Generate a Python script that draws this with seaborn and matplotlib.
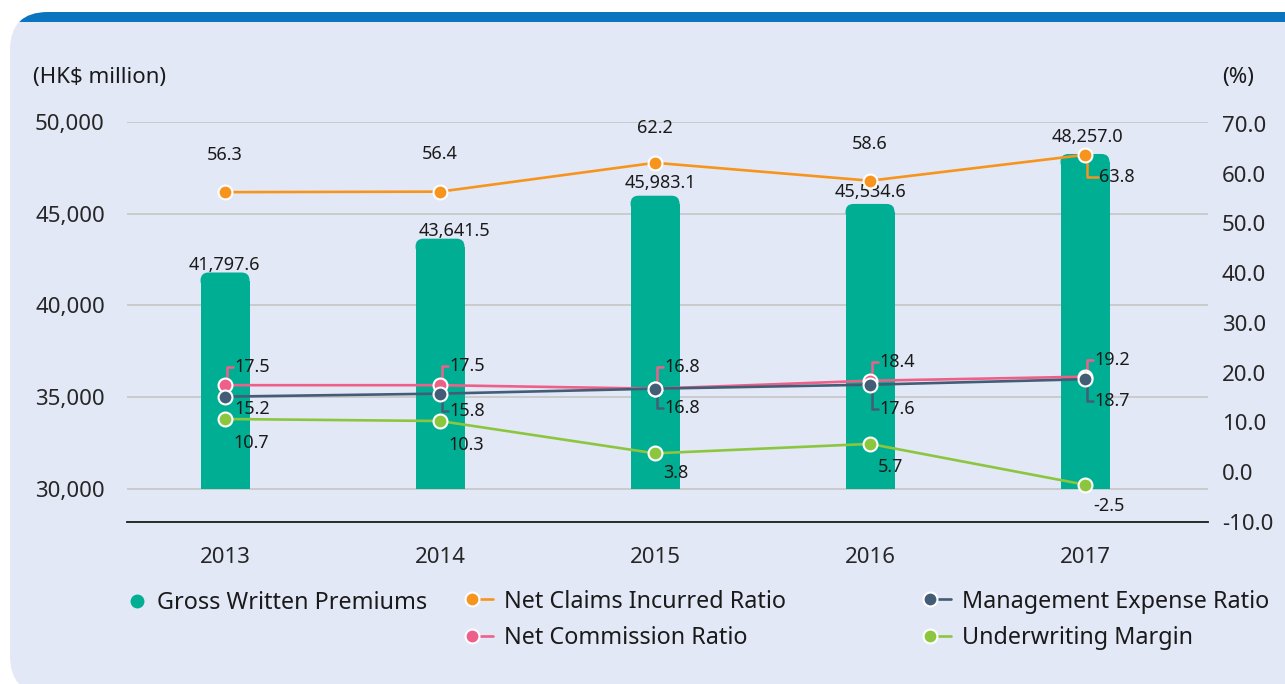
import numpy as np
import pandas as pd
import matplotlib
matplotlib.use("Agg")
import matplotlib.pyplot as plt
import matplotlib.transforms as mtransforms
import seaborn as sns
from matplotlib.patches import FancyBboxPatch, Rectangle
from matplotlib.lines import Line2D
from matplotlib.legend_handler import HandlerLine2D

# data
years = [2013, 2014, 2015, 2016, 2017]
gross_premiums = [41797.6, 43641.5, 45983.1, 45534.6, 48257.0]
net_claims = [56.3, 56.4, 62.2, 58.6, 63.8]
net_commission = [17.5, 17.5, 16.8, 18.4, 19.2]
mgmt_expense = [15.2, 15.8, 16.8, 17.6, 18.7]
uw_margin = [10.7, 10.3, 3.8, 5.7, -2.5]

left_ticks = [30000, 35000, 40000, 45000, 50000]
right_ticks = [-10, 0, 10, 20, 30, 40, 50, 60, 70]
bar_base = 30000

series_names = ["Net Claims Incurred Ratio", "Net Commission Ratio",
                "Management Expense Ratio", "Underwriting Margin"]
series_values = [net_claims, net_commission, mgmt_expense, uw_margin]

# colours
teal = "#00af93"
colors = {"Net Claims Incurred Ratio": "#f7941d",
          "Net Commission Ratio": "#ee6089",
          "Management Expense Ratio": "#445d76",
          "Underwriting Margin": "#8cc63f"}
panel_col = "#e3e8f6"
band_col = "#0a74bf"

# label placement (pixels from the point): dx, dy, ha, leader
label_pos = {
    "Net Claims Incurred Ratio": dict(dx=[0, 0, 0, 0, 14], dy=[37, 38, 35, 37, -22],
                                      ha=["center"] * 4 + ["left"], leader=[0, 0, 0, 0, 1]),
    "Net Commission Ratio": dict(dx=[9] * 5, dy=[18, 19, 22, 19, 17],
                                 ha=["left"] * 5, leader=[1] * 5),
    "Management Expense Ratio": dict(dx=[9] * 5, dy=[-12, -17, -19, -24, -22],
                                     ha=["left"] * 5, leader=[0, 1, 1, 1, 1]),
    "Underwriting Margin": dict(dx=[8] * 5, dy=[-24, -24, -20, -23, -21],
                                ha=["left"] * 5, leader=[0] * 5),
}
bar_dx = [-1, 14, 5, 0, 2]
bar_dy = [8, 8, 13, 12, 17]

sns.set_theme(style="white")
plt.rcParams["font.family"] = ["Noto Sans", "DejaVu Sans"]
plt.rcParams["text.color"] = "#1a1a1a"

fig = plt.figure(figsize=(12.85, 6.84), dpi=100, facecolor="white")

# background panel with blue band on top
panel = FancyBboxPatch((0.10, -0.10), 13.5, 6.82, boxstyle="round,pad=0,rounding_size=0.38",
                       transform=fig.dpi_scale_trans, fc=panel_col, ec="none", zorder=-10)
fig.add_artist(panel)
band = Rectangle((0, 6.62), 13.5, 0.2, transform=fig.dpi_scale_trans,
                 fc=band_col, ec="none", zorder=-9)
fig.add_artist(band)
band.set_clip_path(panel)

ax = fig.add_axes([127 / 1285, 1 - 522 / 684, (1208 - 127) / 1285, 400 / 684])
ax.set_facecolor("none")

df = pd.DataFrame({"year": years, "gwp": gross_premiums})
sns.barplot(data=df, x="year", y="gwp", native_scale=True, width=0.228, color=teal,
            saturation=1, ax=ax, zorder=2)
ax.set_xlim(2012.544, 2017.572)
ax.set_ylim(28200, 50000)

# bars start at 30,000 with a rounded top
px_per_x = 1081 / (2017.572 - 2012.544)
px_per_y = 400 / (50000 - 28200)
r_px = 8
rx, ry = r_px / px_per_x, r_px / px_per_y
for p in list(ax.patches):
    top = p.get_height()
    x0, w = p.get_x(), p.get_width()
    p.set_y(bar_base)
    p.set_height(top - bar_base - ry)
    p.set_edgecolor("none")
    cap = FancyBboxPatch((x0, top - 2 * ry), w, 2 * ry,
                         boxstyle=f"round,pad=0,rounding_size={rx}",
                         mutation_aspect=ry / rx, fc=teal, ec="none", zorder=2)
    ax.add_patch(cap)

for i, (yr, v) in enumerate(zip(years, gross_premiums)):
    ax.annotate(f"{v:,.1f}", xy=(yr, v), xytext=(bar_dx[i], bar_dy[i]),
                textcoords="offset pixels", ha="center", va="center", fontsize=13, zorder=5)

ax.set_yticks(left_ticks)
ax.set_yticklabels([f"{t:,}" for t in left_ticks])
ax.set_xticks(years)
ax.set_xticklabels([str(y) for y in years])
ax.set_xlabel("")
ax.set_ylabel("")
ax.yaxis.grid(True, color="#c8c8c8", lw=1.3)
ax.set_axisbelow(True)
for s in ["left", "right", "top"]:
    ax.spines[s].set_visible(False)
ax.spines["bottom"].set_color("#1a1a1a")
ax.spines["bottom"].set_linewidth(1.3)
ax.tick_params(axis="y", length=0, pad=16, labelsize=16)
ax.tick_params(axis="x", length=0, pad=18, labelsize=16)

# ratio lines on the right axis
ax2 = ax.twinx()
ldf = pd.DataFrame({"year": years * len(series_names),
                    "series": [n for n in series_names for _ in years],
                    "value": [v for vals in series_values for v in vals]})
sns.lineplot(data=ldf, x="year", y="value", hue="series", hue_order=series_names,
             palette=colors, marker="o", markersize=10, markeredgecolor="white",
             markeredgewidth=1.5, linewidth=1.9, ax=ax2, legend=False, zorder=4)
ax2.set_ylim(-10, 70.4)
ax2.set_yticks(right_ticks)
ax2.set_yticklabels([f"{t:.1f}" for t in right_ticks])
ax2.set_ylabel("")
ax2.set_xlabel("")
ax2.grid(False)
for s in ax2.spines.values():
    s.set_visible(False)
ax2.tick_params(axis="y", length=0, pad=10, labelsize=16)

for name, vals in zip(series_names, series_values):
    pos = label_pos[name]
    c = colors[name]
    for i, (yr, v) in enumerate(zip(years, vals)):
        dx, dy = pos["dx"][i], pos["dy"][i]
        ax2.annotate(f"{v:.1f}", xy=(yr, v), xytext=(dx, dy),
                     textcoords="offset pixels", ha=pos["ha"][i], va="center",
                     fontsize=13, zorder=3)
        if pos["leader"][i]:
            # leader in pixel offsets anchored at the point
            anchor = mtransforms.IdentityTransform() + \
                mtransforms.ScaledTranslation(yr, v, ax2.transData)
            ax2.plot([1.5, 1.5, dx - 1.5], [0, dy, dy], color=c, lw=1.8,
                     transform=anchor, solid_joinstyle="round", zorder=3, clip_on=False)

fig.text(33 / 1285, 1 - 78 / 684, "(HK$ million)", fontsize=16, va="center")
fig.text(1222 / 1285, 1 - 78 / 684, "(%)", fontsize=16, va="center")


# legend handle with the marker at the left end of the line
class MarkerLeft(HandlerLine2D):
    def create_artists(self, legend, orig_handle, xdescent, ydescent, width, height,
                       fontsize, trans):
        y = (height - ydescent) / 2
        mx = -xdescent + 0.25 * width
        line = Line2D([mx, -xdescent + width], [y, y])
        self.update_prop(line, orig_handle, legend)
        line.set_marker("None")
        mk = Line2D([mx], [y])
        self.update_prop(mk, orig_handle, legend)
        mk.set_linestyle("None")
        line.set_transform(trans)
        mk.set_transform(trans)
        return [line, mk]


def ratio_handle(name):
    return Line2D([], [], color=colors[name], lw=1.9, marker="o", markersize=10,
                  markerfacecolor=colors[name], markeredgecolor="white", markeredgewidth=1.5)


leg_font = 16.8
fig.legend([Line2D([], [], ls="none", marker="o", markersize=9, color=teal)],
           ["Gross Written Premiums"], loc="center left",
           bbox_to_anchor=(128 / 1285, 1 - 603 / 684), frameon=False, fontsize=leg_font,
           handlelength=0.75, handletextpad=0.5, borderpad=0, borderaxespad=0)
fig.legend([ratio_handle(n) for n in series_names[:2]], series_names[:2], loc="center left",
           bbox_to_anchor=(465 / 1285, 1 - 620 / 684), frameon=False, fontsize=leg_font,
           handlelength=1.2, handletextpad=0.45, labelspacing=0.55, borderpad=0, borderaxespad=0,
           handler_map={Line2D: MarkerLeft()})
fig.legend([ratio_handle(n) for n in series_names[2:]], series_names[2:], loc="center left",
           bbox_to_anchor=(923 / 1285, 1 - 620 / 684), frameon=False, fontsize=leg_font,
           handlelength=1.2, handletextpad=0.45, labelspacing=0.55, borderpad=0, borderaxespad=0,
           handler_map={Line2D: MarkerLeft()})

fig.savefig("out.png", dpi=100, facecolor="white")
